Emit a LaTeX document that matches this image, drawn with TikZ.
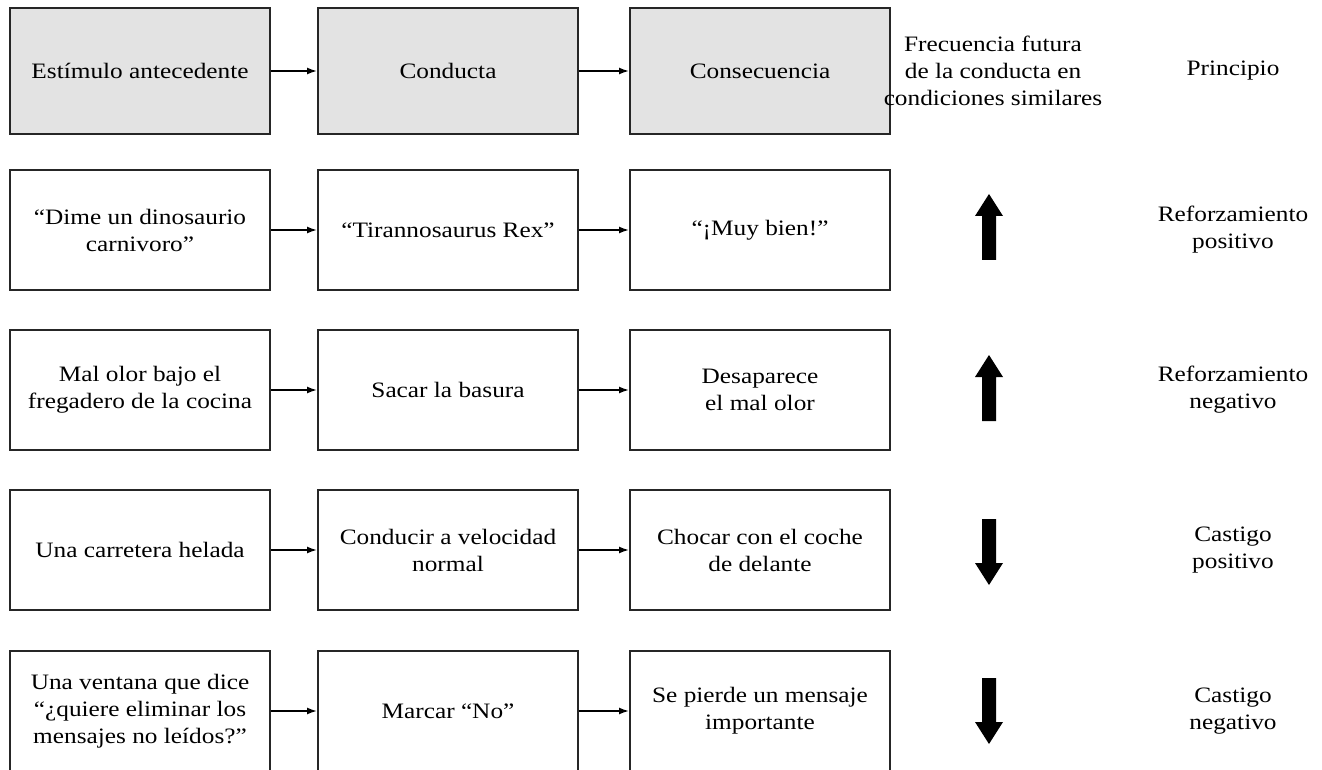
\documentclass[tikz,border=0pt]{standalone}
\usepackage{fontspec}
\setmainfont[FakeStretch=1.15]{Liberation Serif}
\usepackage{xcolor}
\usetikzlibrary{arrows.meta}
\definecolor{cajagris}{RGB}{227,227,227}
\tikzset{caja/.style={draw=black!85,line width=1pt,minimum width=130pt,minimum height=60pt,align=center,inner sep=2pt},
flecha/.style={-{Latex[length=5pt,width=3.5pt]},line width=0.8pt},
etiq/.style={align=center,inner sep=0pt}}

\begin{document}
\begin{tikzpicture}[x=0.5pt,y=-0.5pt,font=\fontsize{11}{13.5}\selectfont]
\useasboundingbox (0,0) rectangle (1322,770);
\clip (0,0) rectangle (1322,770);
% cabecera
\node[caja,fill=cajagris,minimum height=63pt] (e0) at (140,71) {Estímulo antecedente};
\node[caja,fill=cajagris,minimum height=63pt] (c0) at (448,71) {Conducta};
\node[caja,fill=cajagris,minimum height=63pt] (q0) at (760,71) {Consecuencia};
\node[etiq] (f0) at (993,71) {Frecuencia futura\\de la conducta en\\condiciones similares};
\node[etiq] (p0) at (1233,71) {Principio};
% filas
\foreach \n/\y/\a/\b/\c/\p in {1/230/{“Dime un dinosaurio\\carnivoro”}/{“Tirannosaurus Rex”}/{“¡Muy bien!”}/{Reforzamiento\\positivo},
2/390/{Mal olor bajo el\\fregadero de la cocina}/{Sacar la basura}/{Desaparece\\el mal olor}/{Reforzamiento\\negativo},
3/550/{Una carretera helada}/{Conducir a velocidad\\normal}/{Chocar con el coche\\de delante}/{Castigo\\positivo},
4/711/{Una ventana que dice\\“¿quiere eliminar los\\mensajes no leídos?”}/{Marcar “No”}/{Se pierde un mensaje\\importante}/{Castigo\\negativo}} {
\node[caja] (e\n) at (140,\y) {\a};
\node[caja] (c\n) at (448,\y) {\b};
\node[caja] (q\n) at (760,\y) {\c};
\node[etiq] (p\n) at (1233,\y) {\p};}
\foreach \n in {0,...,4} {
\draw[flecha] (e\n) -- (c\n);
\draw[flecha] (c\n) -- (q\n);}
% flechas gruesas
\foreach \y/\s in {227/1,388/1,552/-1,711/-1}
\fill (982,{\y+33*\s}) -- (982,{\y-11*\s}) -- (975,{\y-11*\s}) -- (989,{\y-33*\s}) -- (1003,{\y-11*\s}) -- (996,{\y-11*\s}) -- (996,{\y+33*\s}) -- cycle;
\end{tikzpicture}
\end{document}
